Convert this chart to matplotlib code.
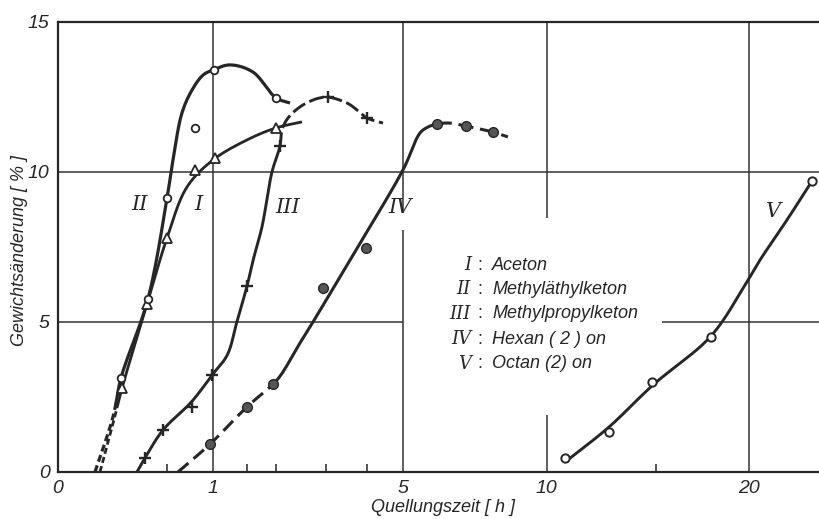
import numpy as np
import matplotlib
matplotlib.use("Agg")
import matplotlib.pyplot as plt

# ---------------- data: Quellungszeit [h] vs Gewichtsänderung [%] ----------------
# measured points (markers)
aceton_t = [0.172, 0.332, 0.498, 0.786, 1.033, 1.991]
aceton_y = [2.8, 5.6, 7.8, 10.07, 10.47, 11.47]
mek_t = [0.166, 0.339, 0.498, 0.786, 1.02, 1.991]
mek_y = [3.13, 5.77, 9.13, 11.47, 13.4, 12.47]
mpk_t = [0.317, 0.462, 0.752, 0.994, 1.497, 2.065, 3.05, 4.0]
mpk_y = [0.47, 1.4, 2.17, 3.23, 6.2, 10.87, 12.5, 11.8]
hex_t = [0.968, 1.497, 1.937, 2.94, 3.974, 6.02, 6.97, 7.93]
hex_y = [0.93, 2.17, 2.93, 6.13, 7.47, 11.6, 11.53, 11.33]
oct_t = [10.77, 12.72, 14.78, 17.86, 23.82]
oct_y = [0.47, 1.33, 3.0, 4.5, 9.7]

# hand-drawn fitted curves (knots)
aceton_curve_t = [0.0739, 0.135, 0.172, 0.332, 0.498, 0.697, 1.006, 1.497, 1.991, 2.494]
aceton_curve_y = [0.0, 1.85, 2.8, 5.6, 7.8, 9.5, 10.4, 11.07, 11.47, 11.67]
mek_curve_t = [0.0574, 0.127, 0.166, 0.339, 0.498, 0.554, 0.644, 0.752, 0.881, 1.006,
               1.239, 1.593, 1.991, 2.255]
mek_curve_y = [0.0, 1.85, 3.13, 5.77, 9.13, 10.4, 11.97, 12.73, 13.23, 13.4,
               13.57, 13.33, 12.47, 12.3]
mpk_curve_t = [0.261, 0.317, 0.462, 0.75, 0.994, 1.2, 1.34, 1.497, 1.6, 1.743, 1.918, 2.065,
               2.10, 2.216, 2.453, 2.724, 2.876, 3.05, 3.499, 3.745, 4.0, 4.425]
mpk_curve_y = [0.0, 0.47, 1.4, 2.35, 3.23, 3.9, 5.0, 6.2, 7.1, 8.17, 10.0, 10.87,
               11.4, 11.8, 12.17, 12.4, 12.47, 12.5, 12.3, 12.07, 11.8, 11.63]
hex_curve_t = [0.603, 0.968, 1.497, 1.937, 2.08, 2.453, 2.724, 3.572, 4.986, 5.49, 5.735,
               6.02, 6.437, 6.97, 7.93, 8.48]
hex_curve_y = [0.0, 0.93, 2.17, 2.93, 3.23, 4.3, 5.0, 7.07, 10.07, 11.3, 11.5,
               11.6, 11.63, 11.53, 11.33, 11.17]
oct_curve_t = [10.77, 12.72, 14.83, 17.86, 19.77, 20.65, 22.26, 23.82]
oct_curve_y = [0.33, 1.5, 2.9, 4.53, 6.23, 7.07, 8.4, 9.7]

x_ticks = [0, 1, 5, 10, 20]
x_minor = [0.5, 1.5, 2, 3, 4, 15]
y_ticks = [0, 5, 10, 15]

roman = ["I", "II", "III", "IV", "V"]
names = ["Aceton", "Methyläthylketon", "Methylpropylketon", "Hexan ( 2 ) on", "Octan (2) on"]

# ---------------- style ----------------
INK = "#262626"
GRID = "#333333"
SANS = ["Liberation Sans", "DejaVu Sans"]
SERIF = ["DejaVu Serif"]
PXU = 154.5   # px per sqrt(h)
PXY = 30.0    # px per %

fig = plt.figure(figsize=(8.19, 5.19), dpi=100)
W, H = 819, 519
ax = fig.add_axes([58 / W, (H - 472) / H, 761 / W, 450 / H])


def fwd(x):
    return np.sqrt(np.clip(x, 0, None))


def inv(u):
    return np.asarray(u) ** 2


ax.set_xscale("function", functions=(fwd, inv))
ax.set_xlim(0, (761 / PXU) ** 2)
ax.set_ylim(0, 15)


def smooth(ts, ys, n=24, alpha=0.5):
    P = np.column_stack([np.sqrt(ts) * PXU, np.asarray(ys) * PXY])
    P = np.vstack([2 * P[0] - P[1], P, 2 * P[-1] - P[-2]])
    out = []
    for i in range(1, len(P) - 2):
        p0, p1, p2, p3 = P[i - 1], P[i], P[i + 1], P[i + 2]
        t0 = 0.0
        t1 = t0 + np.linalg.norm(p1 - p0) ** alpha
        t2 = t1 + np.linalg.norm(p2 - p1) ** alpha
        t3 = t2 + np.linalg.norm(p3 - p2) ** alpha
        t = np.linspace(t1, t2, n)[:, None]
        A1 = (t1 - t) / (t1 - t0) * p0 + (t - t0) / (t1 - t0) * p1
        A2 = (t2 - t) / (t2 - t1) * p1 + (t - t1) / (t2 - t1) * p2
        A3 = (t3 - t) / (t3 - t2) * p2 + (t - t2) / (t3 - t2) * p3
        B1 = (t2 - t) / (t2 - t0) * A1 + (t - t0) / (t2 - t0) * A2
        B2 = (t3 - t) / (t3 - t1) * A2 + (t - t1) / (t3 - t1) * A3
        C = (t2 - t) / (t2 - t1) * B1 + (t - t1) / (t2 - t1) * B2
        out.append(C if i == 1 else C[1:])
    C = np.vstack(out)
    return (C[:, 0] / PXU) ** 2, C[:, 1] / PXY


def draw_curve(ts, ys, pieces, lw=2.3):
    xs, yv = smooth(ts, ys)
    for lo, hi, dash in pieces:
        m = (xs >= lo) & (xs <= hi)
        idx = np.where(m)[0]
        if len(idx) == 0:
            continue
        a, b = idx[0], idx[-1]
        a = max(a - 1, 0)
        b = min(b + 1, len(xs) - 1)
        kw = dict(color=INK, lw=lw, solid_capstyle="butt", dash_capstyle="butt", zorder=3)
        if dash is None:
            ax.plot(xs[a:b + 1], yv[a:b + 1], "-", **kw)
        else:
            ax.plot(xs[a:b + 1], yv[a:b + 1], linestyle=(0, dash), **kw)


# grid lines (interrupted where text sits)
glw = 1.1
ax.vlines(1, 0, 15, color=GRID, lw=glw, zorder=1)
ax.vlines(5, 8.63, 15, color=GRID, lw=glw, zorder=1)
ax.vlines(5, 0, 8.07, color=GRID, lw=glw, zorder=1)
ax.vlines(10, 8.47, 15, color=GRID, lw=glw, zorder=1)
ax.vlines(10, 0, 1.9, color=GRID, lw=glw, zorder=1)
ax.vlines(20, 0, 15, color=GRID, lw=glw, zorder=1)
ax.hlines(10, 0, 30, color=GRID, lw=glw, zorder=1)
ax.hlines(5, 0, 5, color=GRID, lw=glw, zorder=1)
ax.hlines(5, 15.3, 30, color=GRID, lw=glw, zorder=1)

# curves
draw_curve(aceton_curve_t, aceton_curve_y, [(0, 0.15, (2.2, 1.2)), (0.15, 99, None)], lw=2.0)
draw_curve(mek_curve_t, mek_curve_y, [(0, 0.14, (2.2, 1.2)), (0.14, 99, None)], lw=2.3)
draw_curve(mpk_curve_t, mpk_curve_y, [(0, 2.065, None), (2.065, 99, (5, 1.6))], lw=2.1)
draw_curve(hex_curve_t, hex_curve_y, [(0, 2.0, (4.5, 2.2)), (2.0, 6.02, None), (6.02, 99, (5, 2.2))], lw=2.2)
draw_curve(oct_curve_t, oct_curve_y, [(0, 99, None)], lw=2.1)

# markers
ax.plot(aceton_t, aceton_y, ls="none", marker="^", ms=6.5, mfc="white", mec=INK, mew=1.3, zorder=4)
ax.plot(mek_t, mek_y, ls="none", marker="o", ms=5.5, mfc="white", mec=INK, mew=1.3, zorder=4)
ax.plot(mpk_t, mpk_y, ls="none", marker="+", ms=8, mec=INK, mew=1.7, zorder=4)
ax.plot(hex_t, hex_y, ls="none", marker="o", ms=7, mfc="#555555", mec=INK, mew=1.0, zorder=4)
ax.plot(oct_t, oct_y, ls="none", marker="o", ms=6, mfc="white", mec=INK, mew=1.4, zorder=4)

# spines
for s in ["left", "bottom", "top"]:
    ax.spines[s].set_color(INK)
    ax.spines[s].set_linewidth(1.6)
ax.spines["right"].set_visible(False)

# ticks
ax.set_xticks(x_ticks)
ax.set_xticklabels([str(v) for v in x_ticks])
ax.set_xticks(x_minor, minor=True)
ax.set_yticks(y_ticks)
ax.set_yticklabels([str(v) for v in y_ticks])
ax.tick_params(axis="both", which="major", length=0, pad=6, labelsize=14, colors=INK)
ax.tick_params(axis="x", which="minor", direction="in", length=6, width=1.1, color=INK)
for lab in ax.get_xticklabels() + ax.get_yticklabels():
    lab.set_family(SANS)
    lab.set_style("italic")

# axis titles
fig.text(443 / W, 1 - 508 / H, "Quellungszeit [ h ]", ha="center", va="center",
         family=SANS, style="italic", fontsize=13, color=INK)
fig.text(20 / W, 1 - 251 / H, "Gewichtsänderung [ % ]", ha="center", va="center",
         rotation=90, family=SANS, style="italic", fontsize=13, color=INK)

# curve labels
curve_lab_t = [0.821, 0.2817, 2.216, 4.90, 21.42]
curve_lab_y = [8.9, 8.9, 8.83, 8.83, 8.67]
for r, tx, ty in zip(roman, curve_lab_t, curve_lab_y):
    ax.text(tx, ty, r, ha="center", va="center", family=SERIF, style="italic",
            fontsize=15, color=INK, zorder=5)

# legend block
leg_y = [265, 289, 314, 339, 364]
for r, nm, py in zip(roman, names, leg_y):
    fig.text(471 / W, 1 - py / H, r, ha="right", va="center", family=SERIF,
             style="italic", fontsize=13, color=INK)
    fig.text(480 / W, 1 - py / H, ":", ha="center", va="center", family=SANS,
             fontsize=13, color=INK)
    fig.text(492 / W, 1 - py / H, nm, ha="left", va="center", family=SANS,
             style="italic", fontsize=13, color=INK)

fig.savefig("out.png", dpi=100, facecolor="white")
